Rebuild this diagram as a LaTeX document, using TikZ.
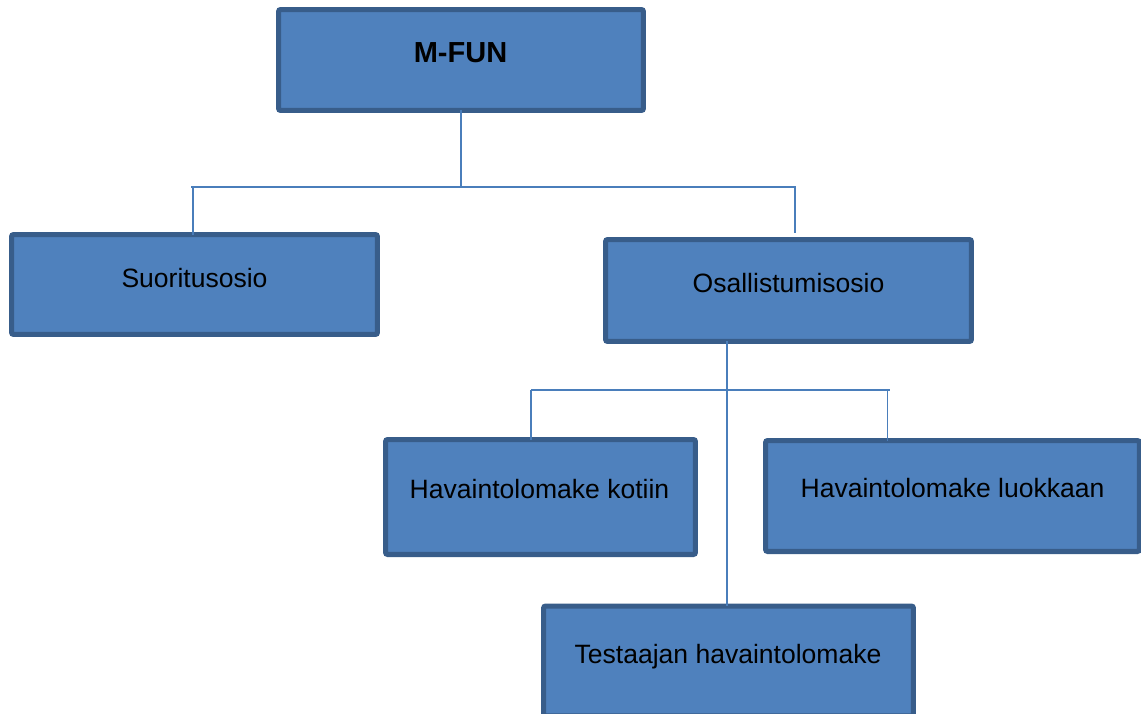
\documentclass[tikz,border=0pt]{standalone}
\usepackage{fontspec}
\setmainfont{Liberation Sans}
\usepackage{xcolor}
\usetikzlibrary{
    calc,
    positioning
}
\definecolor{boxfill}{HTML}{4F81BD}
\definecolor{boxedge}{HTML}{385D8A}
\definecolor{connline}{HTML}{4A7EBB}

\begin{document}
\begin{tikzpicture}[x=0.02cm, y=-0.02cm,
                    orgbox/.style={draw=boxedge, fill=boxfill, line width=2.85pt, rounded corners=1.2pt, inner sep=0pt, outer sep=0pt},
                    boxtext/.style={anchor=base, inner sep=0pt, font=\fontsize{15.1}{18}\selectfont},
                    titletext/.style={anchor=base, inner sep=0pt, font=\fontsize{16.5}{20}\selectfont\bfseries},
                    conn/.style={draw=connline, line width=1.1pt}]
                                    \useasboundingbox (0, 0) rectangle (1141, 713);
                                    \begin{scope}
                                        \node[orgbox, minimum width=7.3cm, minimum height=2.02cm] (mfun) at (461, 60) {};
                                        \node[titletext] (mfuntxt) at (460.5, 63) {M-FUN};
                                    \end{scope}
                                    \begin{scope}
                                        \node[orgbox, minimum width=7.32cm, minimum height=2.0cm] (suor) at (194.5, 284.5) {};
                                        \node[boxtext] (suortxt) at (194.5, 287) {Suoritusosio};
                                        \node[orgbox, minimum width=7.32cm, minimum height=2.04cm] (osall) at (788.5, 290.5) {};
                                        \node[boxtext] (osalltxt) at (788.5, 292) {Osallistumisosio};
                                    \end{scope}
                                    \begin{scope}
                                        \node[orgbox, minimum width=6.2cm, minimum height=2.3cm] (kotiin) at (540.5, 497) {};
                                        \node[boxtext] (kotiintxt) at (539.5, 498) {Havaintolomake kotiin};
                                        \node[orgbox, minimum width=7.48cm, minimum height=2.22cm] (luokka) at (952.5, 496) {};
                                        \node[boxtext] (luokkatxt) at (952.5, 497) {Havaintolomake luokkaan};
                                        \node[orgbox, minimum width=7.4cm, minimum height=2.2cm] (testaaja) at (728.5, 661) {};
                                        \node[boxtext] (testaajatxt) at (728, 663) {Testaajan havaintolomake};
                                    \end{scope}
                                    \coordinate (barAleft) at (191, 187);
                                    \coordinate (barAright) at (796, 187);
                                    \coordinate (osalltop) at (795, 233);
                                    \coordinate (barBleft) at (531, 390);
                                    \coordinate (barBright) at (890, 390);
                                    \coordinate (barBmid) at (727, 390);
                                    \draw[conn]
                                    (mfun.south) -- (mfun.south |- barAleft)
                                    (barAleft) -- (barAright)
                                    (barAleft -| 193, 0) -- (193, 0 |- suor.north)
                                    (795, 187) -- (osalltop);
                                    \draw[conn]
                                    (barBmid |- osall.south) -- (barBmid |- testaaja.north)
                                    (barBleft) -- (barBright)
                                    (barBleft) -- (barBleft |- kotiin.north)
                                    (887.5, 390) -- (887.5, 0 |- luokka.north);
                                \end{tikzpicture}
\end{document}
